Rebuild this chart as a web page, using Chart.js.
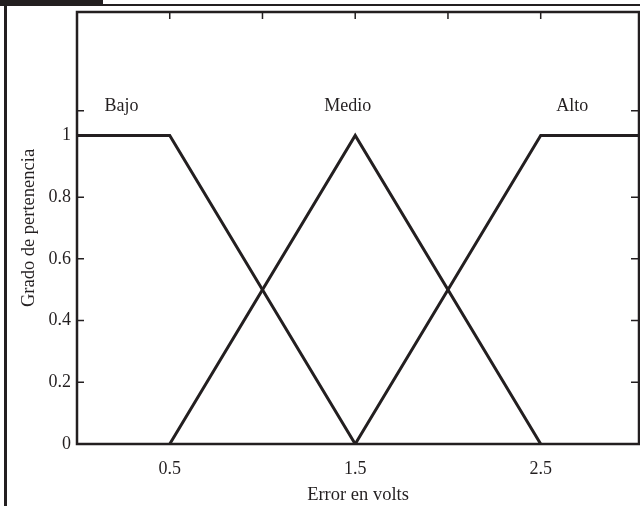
<!DOCTYPE html>
<html>
<head>
<meta charset="utf-8">
<script src="https://cdn.jsdelivr.net/npm/chart.js@4/dist/chart.umd.min.js"></script>
<style>
  html, body { margin: 0; padding: 0; background: #fff; }
  #wrap { position: relative; width: 640px; height: 506px; overflow: hidden; }
  #tab { position: absolute; left: 0; top: 0; width: 103px; height: 5px; background: #231f20; }
  #topline { position: absolute; left: 0; top: 4px; width: 640px; height: 2px; background: #231f20; }
  #leftline { position: absolute; left: 4px; top: 4px; width: 3px; height: 502px; background: #231f20; }
  canvas { position: absolute; left: 0; top: 0; }
</style>
</head>
<body>
<div id="wrap">
  <canvas id="chart" width="640" height="506"></canvas>
  <div id="tab"></div>
  <div id="topline"></div>
  <div id="leftline"></div>
</div>
<script>
// membership functions (x = error in volts, y = degree)
const bajoX = [0, 0.5, 1.5];
const bajoY = [1, 1, 0];
const medioX = [0.5, 1.5, 2.5];
const medioY = [0, 1, 0];
const altoX = [1.5, 2.5, 3.03];
const altoY = [0, 1, 1];

// set names and where they sit on the plot
const setNames = ['Bajo', 'Medio', 'Alto'];
const setNameX = [0.24, 1.46, 2.67];
const setNameY = [1.093, 1.093, 1.093];

// tick labels and inner tick marks
const xTickLabels = [0.5, 1.5, 2.5];
const yTickLabels = [0, 0.2, 0.4, 0.6, 0.8, 1];
const xInnerTicks = [0.5, 1, 1.5, 2, 2.5];
const yInnerTicks = [0.2, 0.4, 0.6, 0.8, 1, 1.08];

const ink = '#231f20';
const serif = '"Liberation Serif", "Times New Roman", serif';

function series(label, xs, ys) {
    return {
        label: label,
        data: xs.map((x, i) => ({ x: x, y: ys[i] })),
        borderColor: ink,
        borderWidth: 3,
        pointRadius: 0,
        fill: false,
        tension: 0
    };
}

// box, inward ticks and set names
const decorPlugin = {
    id: 'decor',
    afterDatasetsDraw(chart) {
        const ctx = chart.ctx;
        const a = chart.chartArea;
        const xs = chart.scales.x;
        const ys = chart.scales.y;
        ctx.save();
        ctx.strokeStyle = ink;
        ctx.lineWidth = 2.5;
        ctx.strokeRect(a.left, a.top, a.right - a.left, a.bottom - a.top);

        ctx.lineWidth = 1.5;
        ctx.beginPath();
        xInnerTicks.forEach(v => {
            const px = xs.getPixelForValue(v);
            ctx.moveTo(px, a.top);
            ctx.lineTo(px, a.top + 7);
        });
        yInnerTicks.forEach(v => {
            const py = ys.getPixelForValue(v);
            ctx.moveTo(a.left, py);
            ctx.lineTo(a.left + 7, py);
            ctx.moveTo(a.right, py);
            ctx.lineTo(a.right - 8, py);
        });
        ctx.stroke();

        ctx.fillStyle = ink;
        ctx.font = '18px ' + serif;
        ctx.textAlign = 'center';
        ctx.textBaseline = 'middle';
        setNames.forEach((name, i) => {
            ctx.fillText(name, xs.getPixelForValue(setNameX[i]), ys.getPixelForValue(setNameY[i]));
        });
        ctx.restore();
    }
};

const ctx = document.getElementById('chart').getContext('2d');
const chart = new Chart(ctx, {
    type: 'line',
    data: {
        datasets: [
            series(setNames[0], bajoX, bajoY),
            series(setNames[1], medioX, medioY),
            series(setNames[2], altoX, altoY)
        ]
    },
    options: {
        responsive: false,
        animation: false,
        layout: { padding: { left: 0, top: 12, right: 1, bottom: 0 } },
        plugins: {
            legend: { display: false },
            tooltip: { enabled: false }
        },
        scales: {
            x: {
                type: 'linear',
                min: 0,
                max: 3.03,
                afterBuildTicks: s => { s.ticks = xTickLabels.map(v => ({ value: v })); },
                afterFit: s => { s.height = 62; s.paddingLeft = 0; s.paddingRight = 0; },
                grid: { display: false, drawTicks: false },
                border: { display: false },
                ticks: {
                    color: ink,
                    font: { family: serif, size: 18 },
                    padding: 14,
                    maxRotation: 0,
                    autoSkip: false,
                    callback: v => String(v)
                },
                title: {
                    display: true,
                    text: 'Error en volts',
                    color: ink,
                    font: { family: serif, size: 18.5 },
                    padding: { top: 10, bottom: 0 }
                }
            },
            y: {
                type: 'linear',
                min: 0,
                max: 1.4,
                afterBuildTicks: s => { s.ticks = yTickLabels.map(v => ({ value: v })); },
                afterFit: s => { s.width = 77; s.paddingTop = 0; s.paddingBottom = 0; },
                grid: { display: false, drawTicks: false },
                border: { display: false },
                ticks: {
                    color: ink,
                    font: { family: serif, size: 18 },
                    padding: 6,
                    autoSkip: false,
                    callback: v => String(v)
                },
                title: {
                    display: true,
                    text: 'Grado de pertenencia',
                    color: ink,
                    font: { family: serif, size: 18.5 },
                    padding: { top: 18, bottom: 0 }
                }
            }
        }
    },
    plugins: [decorPlugin]
});
</script>
</body>
</html>
